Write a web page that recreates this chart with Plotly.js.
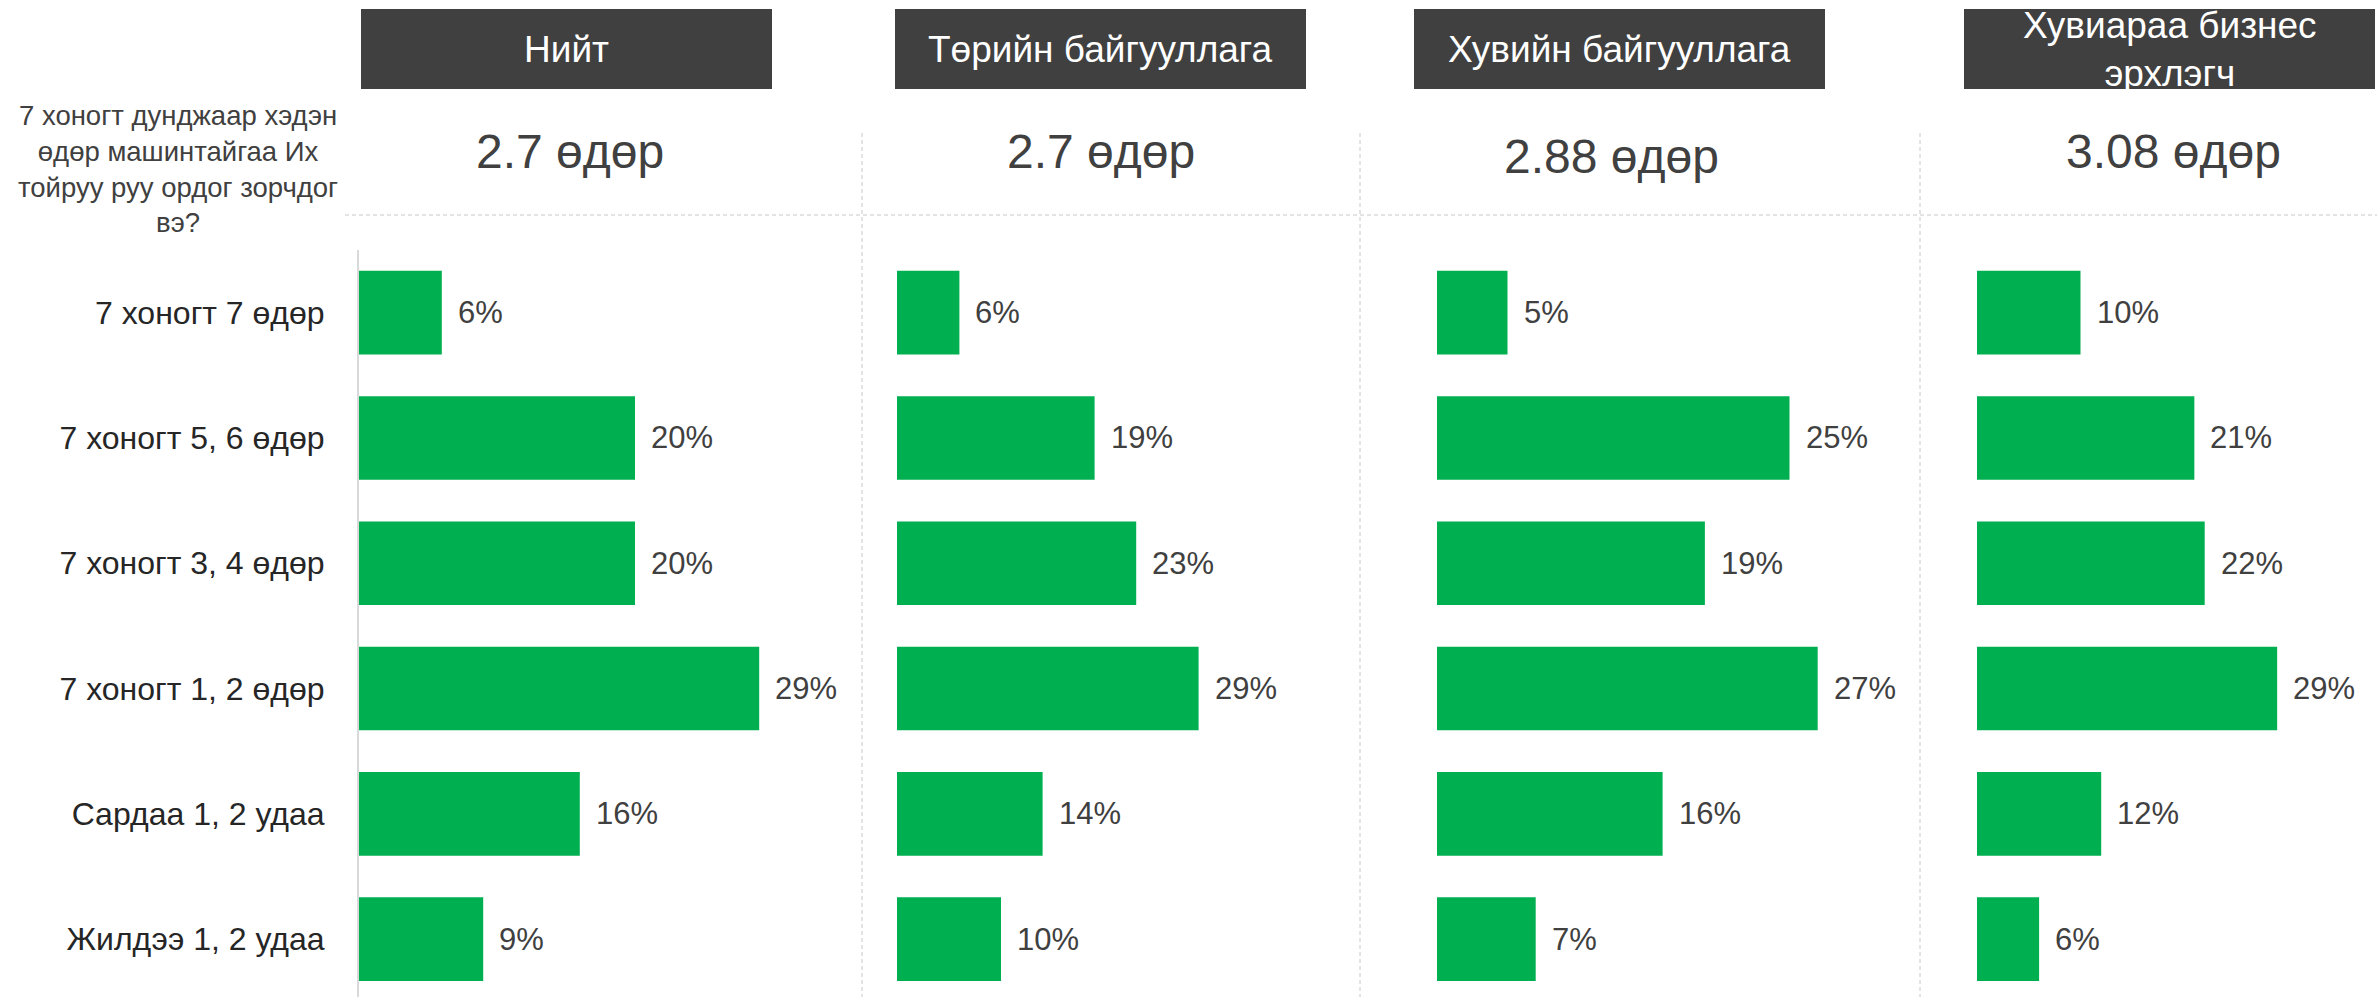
<!DOCTYPE html>
<html><head><meta charset="utf-8">
<script src="https://cdn.plot.ly/plotly-3.0.1.min.js"></script>
<style>html,body{margin:0;padding:0;background:#fff;overflow:hidden}#chart{width:2377px;height:997px}</style>
</head><body><div id="chart"></div>
<script>
// ---- data ----
const categories = ["7 хоногт 7 өдөр", "7 хоногт 5, 6 өдөр", "7 хоногт 3, 4 өдөр", "7 хоногт 1, 2 өдөр", "Сардаа 1, 2 удаа", "Жилдээ 1, 2 удаа"];
const groups = ["Нийт", "Төрийн байгууллага", "Хувийн байгууллага", "Хувиараа бизнес<br>эрхлэгч"];
const avgDays = [2.7, 2.7, 2.88, 3.08];
const total = [6, 20, 20, 29, 16, 9];
const stateOrg = [6, 19, 23, 29, 14, 10];
const privateOrg = [5, 25, 19, 27, 16, 7];
const selfEmployed = [10, 21, 22, 29, 12, 6];
const question = "7 хоногт дунджаар хэдэн<br>өдөр машинтайгаа Их<br>тойруу руу ордог зорчдог<br>вэ?";
const series = [total, stateOrg, privateOrg, selfEmployed];

// ---- layout constants (pixels) ----
const W = 2377, H = 997, plotTop = 250;
const FONT = "Arial, 'Liberation Sans', sans-serif";
const GREEN = "#00B050";
const domStart = [359, 897, 1437, 1977];
const domEnd = [840, 1340, 1900, 2377];
const pxPerPct = [13.8, 10.4, 14.1, 10.35];
const boxes = [[361, 772], [895, 1306], [1414, 1825], [1964, 2375]];
const boxTop = 9, boxBottom = 89;
const numY = [152, 152, 157, 152];
const numDx = [3, 0, -8, 4];
const dividers = [862, 1360, 1920];
const hLineY = 215, hLineX0 = 345, divTop = 133;

const px = x => x / W;
const py = y => 1 - y / H;

const traces = [];
const annotations = [];
const shapes = [];
const layout = {
  width: W, height: H,
  margin: {l: 0, r: 0, t: 0, b: 0, pad: 0},
  paper_bgcolor: "#fff", plot_bgcolor: "rgba(0,0,0,0)",
  showlegend: false, bargap: 0.333, hovermode: false,
  font: {family: FONT, color: "#404040"}
};

series.forEach((vals, i) => {
  const n = i + 1;
  const xa = n === 1 ? "x" : "x" + n;
  const ya = n === 1 ? "y" : "y" + n;
  traces.push({
    type: "bar", orientation: "h", x: vals, y: categories,
    xaxis: xa, yaxis: ya, marker: {color: GREEN}, hoverinfo: "skip"
  });
  const widthPx = domEnd[i] - domStart[i];
  layout["xaxis" + (n === 1 ? "" : n)] = {
    domain: [px(domStart[i]), px(domEnd[i])], anchor: ya,
    range: [0, widthPx / pxPerPct[i]], showgrid: false, zeroline: false,
    showline: false, showticklabels: false, ticks: "", fixedrange: true
  };
  layout["yaxis" + (n === 1 ? "" : n)] = {
    domain: [0, py(plotTop)], anchor: xa,
    type: "category", categoryorder: "array", categoryarray: categories,
    range: [-0.5 + (H - plotTop) / 125.3, -0.5],
    showgrid: false, zeroline: false, ticks: "",
    showline: n === 1, linecolor: "#d9d9d9", linewidth: 2,
    showticklabels: n === 1, ticklabelstandoff: 26,
    tickfont: {family: FONT, size: 32, color: "#262626"}, fixedrange: true
  };
  vals.forEach((v, j) => {
    annotations.push({
      xref: xa, yref: ya, x: v, y: categories[j], text: v + "%",
      showarrow: false, xanchor: "left", yanchor: "middle", xshift: 14,
      font: {family: FONT, size: 31, color: "#404040"}
    });
  });
  // header box
  shapes.push({
    type: "rect", xref: "paper", yref: "paper",
    x0: px(boxes[i][0]), x1: px(boxes[i][1]), y0: py(boxBottom), y1: py(boxTop),
    fillcolor: "#404040", line: {width: 0}, layer: "below"
  });
  annotations.push({
    xref: "paper", yref: "paper", x: px((boxes[i][0] + boxes[i][1]) / 2), y: py(50),
    text: groups[i], showarrow: false, xanchor: "center", yanchor: "middle",
    font: {family: FONT, size: 37, color: "#ffffff"}
  });
  annotations.push({
    xref: "paper", yref: "paper", x: px((boxes[i][0] + boxes[i][1]) / 2 + numDx[i]), y: py(numY[i]),
    text: avgDays[i] + " өдөр", showarrow: false, xanchor: "center", yanchor: "middle",
    font: {family: FONT, size: 48, color: "#404040"}
  });
});

// question text
annotations.push({
  xref: "paper", yref: "paper", x: px(178), y: py(169),
  text: question, showarrow: false, xanchor: "center", yanchor: "middle", align: "center",
  font: {family: FONT, size: 27.5, color: "#404040"}
});

// dashed separators
const dashLine = {color: "#c8c8c8", width: 1, dash: "4px,3px"};
shapes.push({type: "line", xref: "paper", yref: "paper", x0: px(hLineX0), x1: 1, y0: py(hLineY), y1: py(hLineY), line: dashLine});
dividers.forEach(d => shapes.push({type: "line", xref: "paper", yref: "paper", x0: px(d), x1: px(d), y0: py(divTop), y1: 0, line: dashLine}));

layout.annotations = annotations;
layout.shapes = shapes;

Plotly.newPlot("chart", traces, layout, {staticPlot: true, displayModeBar: false});
</script>
</body></html>
